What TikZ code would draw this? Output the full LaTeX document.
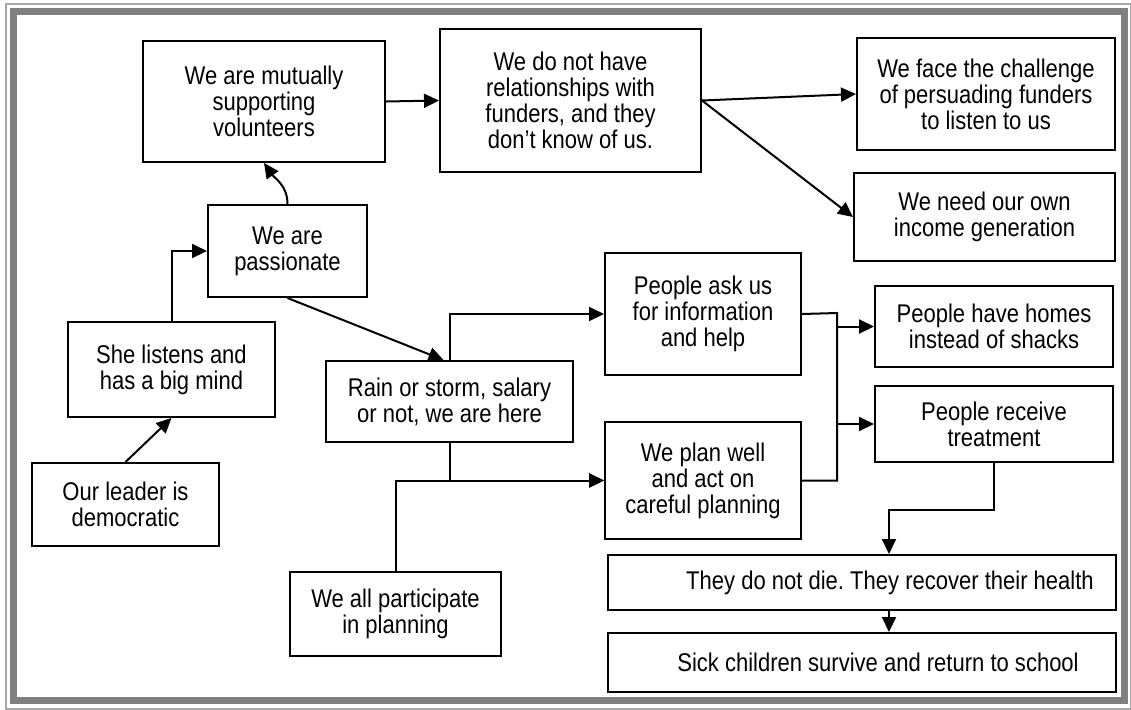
\documentclass[tikz,border=0pt]{standalone}
\usepackage{fontspec}
\setmainfont{Liberation Sans}[FakeStretch=0.86]
\usetikzlibrary{arrows.meta}
\definecolor{framedark}{HTML}{808080}
\definecolor{framelight}{HTML}{A8A8A8}
\tikzstyle{box} = [draw=black, line width=1pt, fill=white, align=center, inner sep=2pt, font=\fontsize{12.8}{13}\selectfont]
\tikzstyle{arr} = [-{Triangle[length=7.5pt,width=7pt]}, line width=1pt]
\frenchspacing

\begin{document}
\begin{tikzpicture}[x=0.5pt, y=-0.5pt, line join=miter]
\useasboundingbox (0,0) rectangle (1131,709);
% frame
\draw[framelight, line width=1pt] (6,4) rectangle (1131,709);
\draw[framedark, line width=3.5pt] (13.5,11.5) rectangle (1124,700);

% Define nodes
\node[box, minimum width=121pt, minimum height=60.5pt] (mutual)     at (264,101.5) {We are mutually\\supporting\\volunteers};
\node[box, minimum width=130.5pt, minimum height=71.5pt] (funders)  at (570.5,100.5) {We do not have\\relationships with\\funders, and they\\don’t know of us.};
\node[box, minimum width=129pt, minimum height=56pt] (challenge)    at (986,94) {We face the challenge\\of persuading funders\\to listen to us};
\node[box, minimum width=130.5pt, minimum height=44pt] (income)     at (984.5,217) {We need our own\\income generation};
\node[box, minimum width=79.5pt, minimum height=46pt] (passion)     at (287.5,251) {We are\\passionate};
\node[box, minimum width=103.5pt, minimum height=47.5pt] (listens)  at (171.5,369.5) {She listens and\\has a big mind};
\node[box, minimum width=93.5pt, minimum height=41.5pt] (leader)    at (125.5,504.5) {Our leader is\\democratic};
\node[box, minimum width=105.5pt, minimum height=42pt] (particip)   at (395.5,614) {We all participate\\in planning};
\node[box, minimum width=123.5pt, minimum height=40.5pt] (rain)     at (449.5,401.5) {Rain or storm, salary\\or not, we are here};
\node[box, minimum width=98pt, minimum height=61pt] (ask)           at (703,314) {People ask us\\for information\\and help};
\node[box, minimum width=98pt, minimum height=58.5pt] (plan)        at (703,480.5) {We plan well\\and act on\\careful planning};
\node[box, minimum width=119pt, minimum height=40.5pt] (homes)      at (994,326.5) {People have homes\\instead of shacks};
\node[box, minimum width=119pt, minimum height=38pt] (treat)        at (994,424) {People receive\\treatment};
\node[box, minimum width=254pt, minimum height=27.5pt] (health)     at (862,582.5) {\hspace*{28pt}They do not die. They recover their health};
\node[box, minimum width=254pt, minimum height=29.5pt] (school)     at (862,662.5) {\hspace*{16pt}Sick children survive and return to school};

\coordinate (bus) at (837,313);

% Edges
\draw[arr] (leader.north) -- (listens.south);
\draw[arr] (listens.north) |- (passion.west);
\draw[arr] (passion.north) to[out=90, in=-55] (mutual.south);
\draw[arr] (mutual.east) -- (funders.west);
\draw[arr] (funders.east) -- (challenge.west);
\draw[arr] (funders.east) -- (income.west);
\draw[arr] (passion.south) -- ([xshift=-3pt]rain.north);
\draw[arr] (rain.north) |- (ask.west);
\draw[arr] (rain.south) |- (plan.west);
\draw[arr] (particip.north) |- (plan.west);
\draw[line width=1pt] (ask.east) -- (bus) |- (plan.east);
\draw[arr] (bus |- homes.west) -- (homes.west);
\draw[arr] (bus |- treat.west) -- (treat.west);
\draw[arr] (treat.south) -- ++(0,47) -| ([xshift=13.5pt]health.north);
\draw[arr] ([xshift=13.5pt]health.south) -- ([xshift=13.5pt]school.north);
\end{tikzpicture}
\end{document}
